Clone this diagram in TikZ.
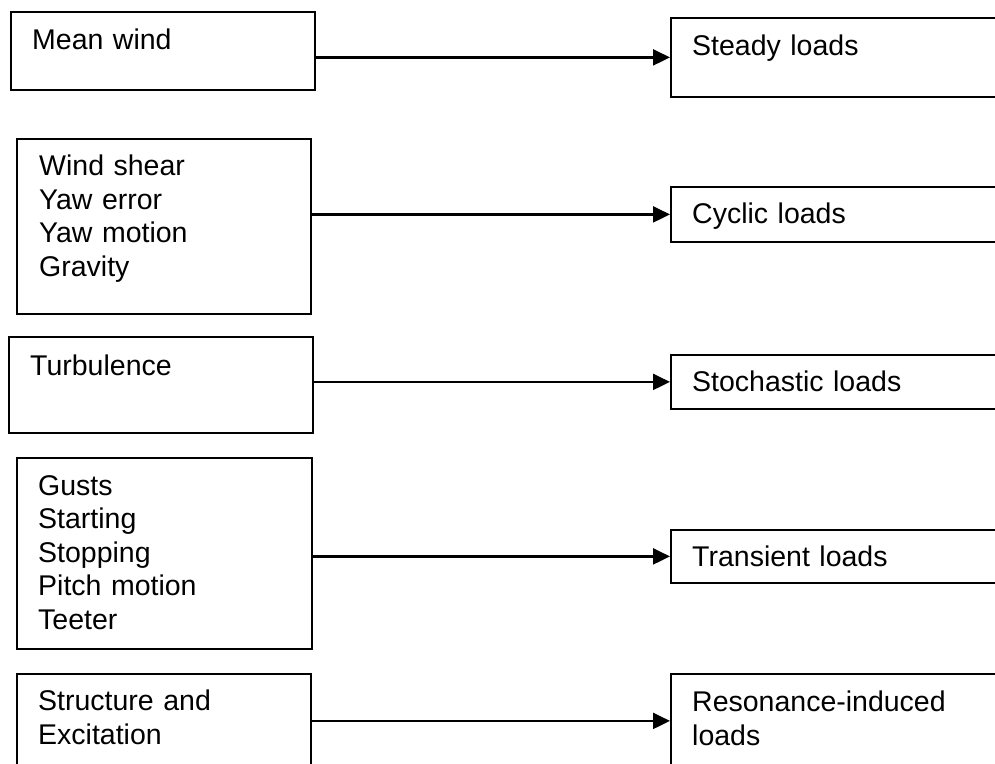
\documentclass[tikz,border=0pt]{standalone}
\usepackage{fontspec}
\setmainfont{Liberation Sans}
\usetikzlibrary{arrows.meta}
\tikzset{
	srcbox/.style={draw=black, line width=1.8pt, rectangle, inner sep=0, anchor=north west},
	loadbox/.style={draw=black, line width=1.8pt, rectangle, inner sep=0, anchor=north west, minimum width=340pt},
	lbl/.style={anchor=base west, inner sep=0, align=left, text width=300pt, font=\fontsize{28.5}{33.5}\selectfont},
	flow/.style={line width=2.2pt, -{Triangle[length=17pt, width=16pt]}}
}

\begin{document}
\begin{tikzpicture}[x=1pt, y=-1pt]
			%%%%% START %%%%%
			\useasboundingbox (0, 0) rectangle (995, 763);
			\clip (0, 0) rectangle (995, 763);
			
			% causes
			\node[srcbox, minimum width=304pt, minimum height=78pt] (mean) at (10, 11) {};
			\node[lbl] (meanTxt) at (32, 49.3) {Mean wind};
			
			\node[srcbox, minimum width=294pt, minimum height=175pt] (shear) at (16, 138) {};
			\node[lbl] (shearTxt) at (39, 175.7) {Wind shear\\Yaw error\\Yaw motion\\Gravity};
			
			\node[srcbox, minimum width=304pt, minimum height=96pt] (turb) at (8, 336) {};
			\node[lbl] (turbTxt) at (30, 375) {Turbulence};
			
			\node[srcbox, minimum width=295pt, minimum height=191pt] (gust) at (16, 457) {};
			\node[lbl] (gustTxt) at (38, 495) {Gusts\\Starting\\Stopping\\Pitch motion\\Teeter};
			
			\node[srcbox, minimum width=294pt, minimum height=120pt] (struct) at (16, 673) {};
			\node[lbl] (structTxt) at (38, 710.7) {Structure and\\Excitation};
			
			% loads
			\node[loadbox, minimum height=79pt] (steady) at (670, 17) {};
			\node[lbl] (steadyTxt) at (692, 55) {Steady loads};
			
			\node[loadbox, minimum height=55pt] (cyclic) at (670, 186) {};
			\node[lbl] (cyclicTxt) at (692, 223.3) {Cyclic loads};
			
			\node[loadbox, minimum height=54pt] (stoch) at (670, 354) {};
			\node[lbl] (stochTxt) at (692, 391.7) {Stochastic loads};
			
			\node[loadbox, minimum height=53pt] (trans) at (670, 529) {};
			\node[lbl] (transTxt) at (692, 566.7) {Transient loads};
			
			\node[loadbox, minimum height=94pt] (reson) at (670, 673) {};
			\node[lbl] (resonTxt) at (692, 711.7) {Resonance-induced\\loads};
			
			% arrows
			\draw[flow] (mean.east |- steady.west) -- (steady.west);
			\draw[flow] (shear.east |- cyclic.west) -- (cyclic.west);
			\draw[flow] (turb.east |- stoch.west) -- (stoch.west);
			\draw[flow] (gust.east |- trans.west) -- (trans.west);
			\draw[flow] (struct.east |- reson.west) -- (reson.west);
			%%%%% END %%%%%
		\end{tikzpicture}
\end{document}
